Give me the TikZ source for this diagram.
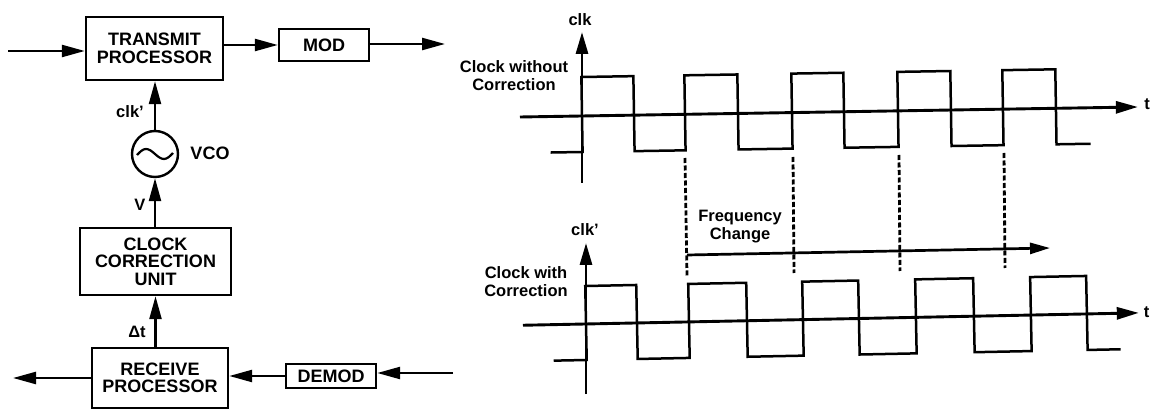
\documentclass[tikz,border=0pt]{standalone}
\usepackage{fontspec}
\setmainfont{Liberation Sans}
\usetikzlibrary{arrows.meta}
\begin{document}
\begin{tikzpicture}[x=1pt,y=-1pt,
  blk/.style={draw, line width=2.4pt, align=center, inner sep=0pt,
    font=\fontsize{18}{17.5}\selectfont\bfseries},
  conn/.style={line width=2.4pt, -{Triangle[length=23pt,width=12pt]}},
  lbl/.style={inner sep=0pt, align=center, font=\fontsize{16.5}{18}\selectfont\bfseries},
  wave/.style={line width=2.5pt, line join=miter},
  axisline/.style={line width=2.9pt, -{Triangle[length=22pt,width=12pt]}},
  dsh/.style={line width=2.8pt, dash pattern=on 5pt off 2.5pt}]
\useasboundingbox (0,0) rectangle (1151,411);

% ---------------- block diagram ----------------
\node[blk, minimum width=137pt, minimum height=63pt] (tp) at (154.5,48.5) {TRANSMIT\\PROCESSOR};
\node[blk, minimum width=90pt, minimum height=32pt] (mod) at (324,45) {MOD};
\node[draw, circle, line width=2.4pt, minimum size=46pt, inner sep=0pt] (vco) at (155,154) {};
\draw[line width=2.2pt, shift={(vco.center)}] (-18,1) sin (-9,-5) cos (0,0) sin (9,5) cos (18,-1);
\node[blk, minimum width=151pt, minimum height=67pt] (ccu) at (155.5,261.5) {CLOCK\\CORRECTION\\UNIT};
\node[blk, minimum width=136pt, minimum height=60pt] (rp) at (160,378) {RECEIVE\\PROCESSOR};
\node[blk, minimum width=90pt, minimum height=24pt] (demod) at (331,376) {DEMOD};

\node[lbl, font=\fontsize{18}{18}\selectfont\bfseries] (vcolbl) at (210,153) {VCO};
\node[lbl] (clkp) at (130,112) {clk'};
\node[lbl] (vlbl) at (140,205) {V};
\node[lbl] (dt) at (137,332) {Δt};

\coordinate (tin) at (8,51);
\coordinate (mout) at (445,44);
\coordinate (din) at (453,373);
\coordinate (rout) at (13,378);
\draw[conn] (tin) -- (tin -| tp.west);
\draw[conn] (tp.east |- mod.west) -- (mod.west);
\draw[conn] (mod.east |- mout) -- (mout);
\draw[conn] (vco.north) -- (vco.north |- tp.south);
\draw[conn] (vco.south |- ccu.north) -- (vco.south);
\draw[conn] (rp.north -| ccu.south) -- (ccu.south);
\draw[conn] (din) -- (din -| demod.east);
\draw[conn] (demod.west) -- (demod.west -| rp.east);
\draw[conn] (rp.west) -- (rout);

% ---------------- timing diagram: without correction ----------------
\coordinate (ya1) at (582,183);
\coordinate (yt1) at (582,32);
\draw[axisline] (ya1) -- (yt1);
\begin{scope}[rotate around={0.93:(582,116)}]
  \coordinate (xa1) at (520,116);
  \coordinate (xt1) at (1138,116);
  \draw[axisline] (xa1) -- (xt1);
  \draw[wave] (550,152) -- (582,152) -- (582,77) -- (634,77) -- (634,152) -- (685,152)
    -- (685,77) -- (738,77) -- (738,152) -- (792,152) -- (792,77) -- (844,77)
    -- (844,152) -- (898,152) -- (898,77) -- (951,77) -- (951,152) -- (1003,152)
    -- (1003,77) -- (1056,77) -- (1056,152) -- (1090,152);
\end{scope}
\node[lbl] (clk1) at (580,20) {clk};
\node[lbl] (cwo) at (514,76) {Clock without\\Correction};
\node[lbl] (t1) at (1147,104) {t};

% dashed markers
\draw[dsh] (685,158) -- (687,276);
\draw[dsh] (793,157) -- (794,273);
\draw[dsh] (899,155) -- (900,271);
\draw[dsh] (1004,153) -- (1005,268);
\node[lbl] (fc) at (740,227) {Frequency\\Change};
\coordinate (fs) at (687,255);
\coordinate (fe) at (1050,248);
\draw[line width=2.7pt, -{Triangle[length=20pt,width=11pt]}] (fs) -- (fe);

% ---------------- timing diagram: with correction ----------------
\coordinate (ya2) at (586,394);
\coordinate (yt2) at (586,243);
\draw[axisline] (ya2) -- (yt2);
\begin{scope}[rotate around={1.15:(586,324)}]
  \coordinate (xa2) at (523,324);
  \coordinate (xt2) at (1139,324);
  \draw[axisline] (xa2) -- (xt2);
  \draw[wave] (553,360) -- (586,360) -- (586,286) -- (637,286) -- (637,360) -- (689,360)
    -- (689,286) -- (747,286) -- (747,360) -- (803,360) -- (803,286) -- (859,286)
    -- (859,360) -- (916,360) -- (916,286) -- (974,286) -- (974,360) -- (1031,360)
    -- (1031,286) -- (1087,286) -- (1087,360) -- (1120,360);
\end{scope}
\node[lbl] (clk2) at (585,230) {clk'};
\node[lbl] (cw) at (526,282) {Clock with\\Correction};
\node[lbl] (t2) at (1146.5,312) {t};
\end{tikzpicture}
\end{document}
